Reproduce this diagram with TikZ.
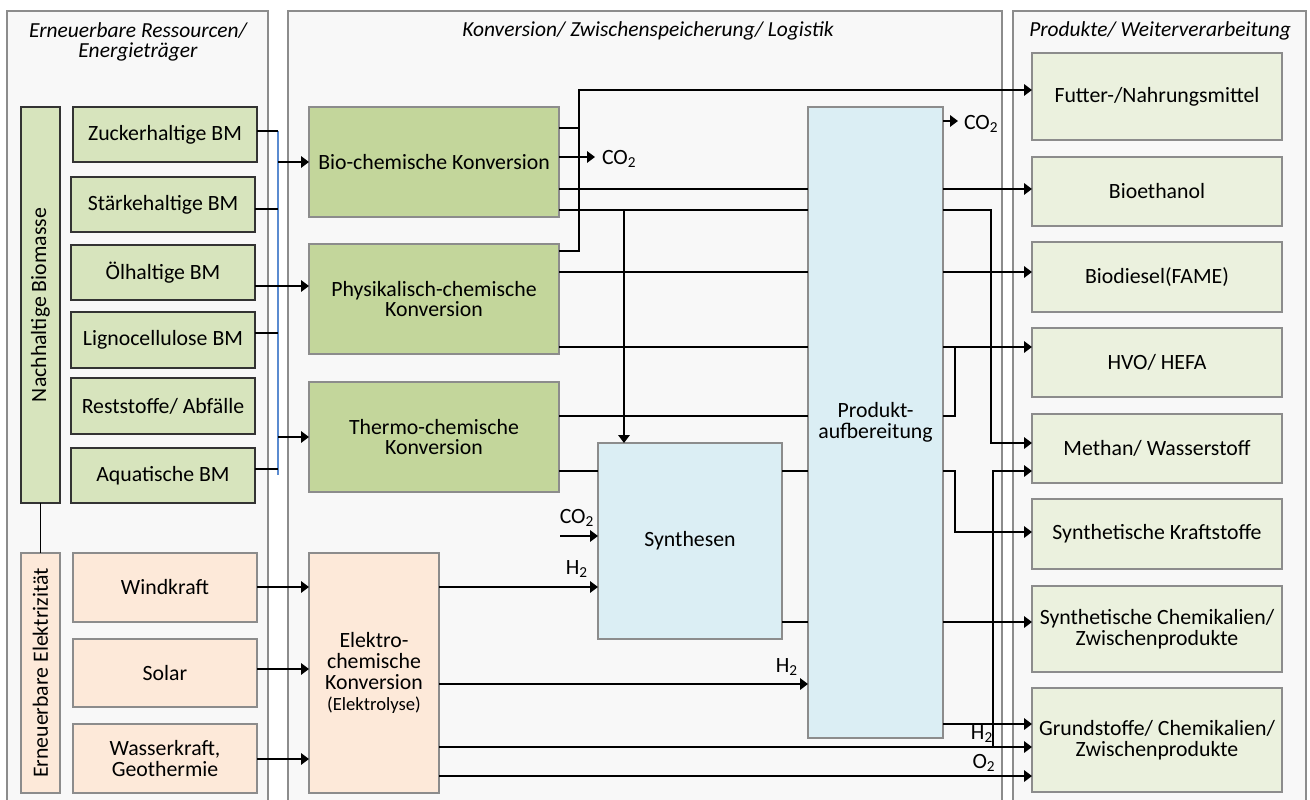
\documentclass[tikz,border=0pt]{standalone}
\usepackage{fontspec}
\setmainfont{Carlito}
\usetikzlibrary{arrows.meta}
\definecolor{bmgreen}{HTML}{D7E4BD}
\definecolor{kvgreen}{HTML}{C3D69B}
\definecolor{prgreen}{HTML}{EBF1DE}
\definecolor{peach}{HTML}{FDE9D9}
\definecolor{lblue}{HTML}{DBEEF4}
\definecolor{panelbg}{HTML}{F8F8F8}
\definecolor{panelbd}{HTML}{8C8C8C}
\definecolor{busblue}{HTML}{5B8BD0}
\newcommand{\bx}[7]{\node[#6, minimum width={(#4-#2)*0.02cm}, minimum height={(#5-#3)*0.02cm}] (#1) at ({(#2+#4)/2},{-(#3+#5)/2}) {#7};}
\newcommand{\sub}[1]{\textsubscript{#1}}
\begin{document}
\begin{tikzpicture}[x=0.02cm,y=0.02cm,
  every node/.style={font=\fontsize{12.4}{11.8}\selectfont, inner sep=0pt, outer sep=0pt, align=center},
  panel/.style={draw=panelbd, fill=panelbg, line width=0.8pt},
  ttl/.style={font=\fontsize{12.2}{11.6}\selectfont\itshape},
  bm/.style={draw=black!80, fill=bmgreen, line width=0.7pt},
  bmbar/.style={draw=black!80, fill=bmgreen, line width=0.7pt},
  elbar/.style={draw=panelbd, fill=peach, line width=0.8pt},
  el/.style={draw=panelbd, fill=peach, line width=0.8pt},
  kv/.style={draw=panelbd, fill=kvgreen, line width=0.8pt},
  elk/.style={draw=panelbd, fill=peach, line width=0.8pt},
  bl/.style={draw=panelbd, fill=lblue, line width=0.8pt},
  pr/.style={draw=panelbd, fill=prgreen, line width=0.8pt},
  conn/.style={draw=black, line width=0.9pt},
  arr/.style={conn, -{Triangle[length=4.5pt,width=6.5pt]}},
  bus/.style={draw=busblue, line width=0.6pt},
  lbl/.style={font=\fontsize{12.4}{11.8}\selectfont}
]
\useasboundingbox (0,0) rectangle (1310,-800);
% panels
\bx{pL}{7}{11}{268}{806}{panel}{}
\bx{pM}{288}{11}{1002}{806}{panel}{}
\bx{pR}{1013}{11}{1306}{806}{panel}{}
\node[ttl] (tL) at (138,-42) {Erneuerbare Ressourcen/\\Energieträger};
\node[ttl] (tM) at (648,-31) {Konversion/ Zwischenspeicherung/ Logistik};
\node[ttl] (tR) at (1160,-31) {Produkte/ Weiterverarbeitung};
% left column
\bx{nb}{21}{107}{60}{503}{bmbar}{\rotatebox{90}{Nachhaltige Biomasse}}
\bx{ee}{21}{553}{60}{793}{elbar}{\rotatebox{90}{Erneuerbare Elektrizität}}
\bx{zuck}{73}{107}{257}{162}{bm}{Zuckerhaltige BM}
\bx{staer}{71}{177}{255}{232}{bm}{Stärkehaltige BM}
\bx{oel}{71}{245}{255}{300}{bm}{Ölhaltige BM}
\bx{lig}{71}{312}{255}{368}{bm}{Lignocellulose BM}
\bx{rest}{71}{378}{255}{434}{bm}{Reststoffe/ Abfälle}
\bx{aqua}{71}{448}{255}{503}{bm}{Aquatische BM}
\bx{wind}{73}{553}{257}{622}{el}{Windkraft}
\bx{solar}{73}{639}{257}{707}{el}{Solar}
\bx{wass}{73}{724}{257}{793}{el}{Wasserkraft,\\Geothermie}
% middle column
\bx{bio}{309}{107}{559}{217}{kv}{Bio-chemische Konversion}
\bx{phys}{309}{244}{559}{354}{kv}{Physikalisch-chemische\\Konversion}
\bx{thermo}{309}{382}{559}{492}{kv}{Thermo-chemische\\Konversion}
\bx{elek}{309}{553}{439}{793}{elk}{Elektro-\\chemische\\Konversion\\{\fontsize{10.6}{11.8}\selectfont(Elektrolyse)}}
\bx{synth}{598}{443}{782}{639}{bl}{Synthesen}
\bx{prod}{808}{107}{943}{738}{bl}{Produkt-\\aufbereitung}
% right column
\bx{fut}{1032}{53}{1282}{140}{pr}{Futter-/Nahrungsmittel}
\bx{beth}{1032}{157}{1282}{226}{pr}{Bioethanol}
\bx{bdie}{1032}{242}{1282}{312}{pr}{Biodiesel(FAME)}
\bx{hvo}{1032}{328}{1282}{397}{pr}{HVO/ HEFA}
\bx{meth}{1032}{414}{1282}{483}{pr}{Methan/ Wasserstoff}
\bx{skraft}{1032}{499}{1282}{569}{pr}{Synthetische Kraftstoffe}
\bx{schem}{1032}{586}{1282}{672}{pr}{Synthetische Chemikalien/\\Zwischenprodukte}
\bx{grund}{1032}{688}{1282}{792}{pr}{Grundstoffe/ Chemikalien/\\Zwischenprodukte}
% left connectors
\coordinate (busT) at (278,-131);
\coordinate (busB) at (278,-475);
\draw[bus] (busT) -- (busB);
\draw[conn] (nb.south) -- (ee.north);
\draw[conn] (zuck.east |- busT) -- (busT);
\draw[conn] (staer.east |- 0,-209) -- (busT |- 0,-209);
\draw[conn] (lig.east |- 0,-333) -- (busT |- 0,-333);
\draw[conn] (aqua.east |- 0,-469) -- (busT |- 0,-469);
\draw[arr] (busT |- 0,-162) -- (bio.west |- 0,-162);
\draw[arr] (oel.east |- 0,-286) -- (phys.west |- 0,-286);
\draw[arr] (busT |- 0,-437) -- (thermo.west |- 0,-437);
\draw[arr] (wind.east |- 0,-587) -- (elek.west |- 0,-587);
\draw[arr] (solar.east |- 0,-669) -- (elek.west |- 0,-669);
\draw[arr] (wass.east |- 0,-759) -- (elek.west |- 0,-759);
% middle connectors
\coordinate (j1) at (579,-90);
\draw[arr] (phys.east |- 0,-251) -| (j1) -- (fut.west |- j1);
\draw[conn] (bio.east |- 0,-128) -- (j1 |- 0,-128);
\coordinate (co2a) at (595,-157);
\draw[arr] (bio.east |- co2a) -- (co2a);
\node[lbl, anchor=west] (co2al) at (602,-159) {CO\sub{2}};
\draw[conn] (bio.east |- 0,-189) -- (prod.west |- 0,-189);
\draw[arr] (prod.east |- 0,-189) -- (beth.west |- 0,-189);
\draw[conn] (bio.east |- 0,-210) -- (prod.west |- 0,-210);
\coordinate (j2) at (624,-210);
\draw[arr] (j2) -- (j2 |- synth.north);
\coordinate (j3) at (991,-443);
\draw[arr] (prod.east |- 0,-210) -| (j3) -- (meth.west |- j3);
\draw[conn] (phys.east |- 0,-272) -- (prod.west |- 0,-272);
\draw[arr] (prod.east |- 0,-272) -- (bdie.west |- 0,-272);
\draw[conn] (phys.east |- 0,-347) -- (prod.west |- 0,-347);
\draw[arr] (prod.east |- 0,-347) -- (hvo.west |- 0,-347);
\coordinate (j4) at (955,-347);
\draw[conn] (prod.east |- 0,-416) -| (j4);
\draw[conn] (thermo.east |- 0,-416) -- (prod.west |- 0,-416);
\draw[conn] (thermo.east |- 0,-471) -- (synth.west |- 0,-471);
\draw[conn] (synth.east |- 0,-471) -- (prod.west |- 0,-471);
\draw[conn] (synth.east |- 0,-622) -- (prod.west |- 0,-622);
\coordinate (j5) at (955,-532);
\draw[arr] (prod.east |- 0,-471) -| (j5) -- (skraft.west |- j5);
\draw[arr] (prod.east |- 0,-622) -- (schem.west |- 0,-622);
\draw[arr] (prod.east |- 0,-724) -- (grund.west |- 0,-724);
\coordinate (co2b) at (560,-536);
\draw[arr] (co2b) -- (synth.west |- co2b);
\node[lbl] (co2bl) at (577,-518) {CO\sub{2}};
\draw[arr] (elek.east |- 0,-587) -- (synth.west |- 0,-587);
\node[lbl] (h2a) at (577,-569) {H\sub{2}};
\draw[arr] (elek.east |- 0,-684) -- (prod.west |- 0,-684);
\node[lbl] (h2b) at (787,-667) {H\sub{2}};
\coordinate (j6) at (993,-747);
\draw[arr] (elek.east |- j6) -- (grund.west |- j6);
\draw[arr] (j6) |- (meth.west |- 0,-471);
\node[lbl] (h2c) at (982,-734) {H\sub{2}};
\draw[arr] (elek.east |- 0,-776) -- (grund.west |- 0,-776);
\node[lbl] (o2) at (984,-763) {O\sub{2}};
\coordinate (co2c) at (958,-121);
\draw[arr] (prod.east |- co2c) -- (co2c);
\node[lbl, anchor=west] (co2cl) at (964,-124) {CO\sub{2}};
\end{tikzpicture}
\end{document}
